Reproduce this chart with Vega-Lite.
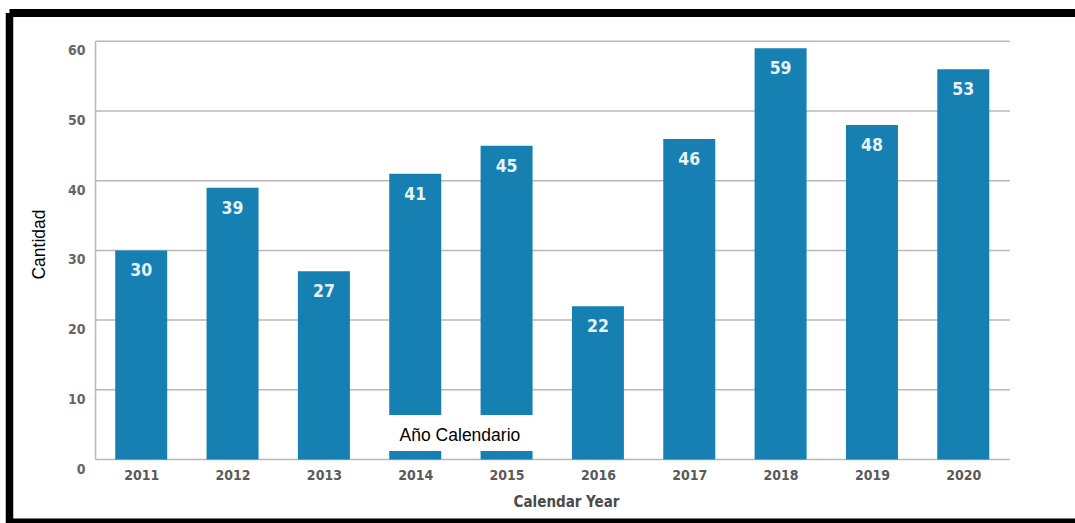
{
  "$schema": "https://vega.github.io/schema/vega-lite/v6.json",
  "width": 1065.5,
  "height": 510,
  "autosize": {"type": "none"},
  "padding": {"left": 9.5, "top": 13, "right": 0, "bottom": 0},
  "background": "white",
  "config": {"view": {"stroke": null}},
  "datasets": {
    "bars": [
      {"year": 2011, "value": 30, "label": "30"},
      {"year": 2012, "value": 39, "label": "39"},
      {"year": 2013, "value": 27, "label": "27"},
      {"year": 2014, "value": 41, "label": "41"},
      {"year": 2015, "value": 45, "label": "45"},
      {"year": 2016, "value": 22, "label": "22"},
      {"year": 2017, "value": 46, "label": "46"},
      {"year": 2018, "value": 59, "label": "59"},
      {"year": 2019, "value": 48, "label": "48"},
      {"year": 2020, "value": 56, "label": "53"}
    ],
    "grid": [
      {"level": 0}, {"level": 10}, {"level": 20}, {"level": 30},
      {"level": 40}, {"level": 50}, {"level": 60}
    ],
    "one": [{"item": "frame"}]
  },
  "layer": [
    {
      "data": {"name": "grid"},
      "mark": {"type": "rule", "color": "#b8b8b8", "strokeWidth": 1.5},
      "encoding": {
        "x": {
          "datum": 2010.5,
          "type": "quantitative",
          "scale": {"domain": [2009.558, 2021.223], "nice": false, "zero": false, "padding": 0},
          "axis": {
            "title": "Calendar Year",
            "values": [2011, 2012, 2013, 2014, 2015, 2016, 2017, 2018, 2019, 2020],
            "format": "d",
            "offset": -63.5,
            "domain": false,
            "ticks": false,
            "grid": false,
            "labelFont": "DejaVu Sans Condensed",
            "labelFontWeight": "bold",
            "labelFontSize": 14,
            "labelColor": "#5a5a5a",
            "labelBaseline": "middle",
            "labelPadding": 15.5,
            "labelFlush": false,
            "labelOverlap": false,
            "titleFont": "DejaVu Sans Condensed",
            "titleFontWeight": "bold",
            "titleFontSize": 15,
            "titleColor": "#4a4a4a",
            "titleX": 556.5,
            "titleY": 41.5,
            "titleBaseline": "middle",
            "titleAnchor": null
          }
        },
        "x2": {"datum": 2020.51},
        "y": {
          "field": "level",
          "type": "quantitative",
          "scale": {"domain": [-9.11, 64.06], "nice": false, "zero": false, "padding": 0},
          "axis": {
            "title": "Cantidad",
            "values": [0, 10, 20, 30, 40, 50, 60],
            "offset": -86.2,
            "domain": false,
            "ticks": false,
            "grid": false,
            "labelFont": "DejaVu Sans Condensed",
            "labelFontWeight": "bold",
            "labelFontSize": 14,
            "labelColor": "#666666",
            "labelPadding": 10.7,
            "labelOffset": 9.5,
            "labelBaseline": "middle",
            "labelFlush": false,
            "labelOverlap": false,
            "titleFont": "Liberation Sans",
            "titleFontWeight": "normal",
            "titleFontSize": 17.5,
            "titleColor": "#000000",
            "titleX": -55.7,
            "titleY": 231,
            "titleAngle": -90,
            "titleBaseline": "middle",
            "titleAnchor": null
          }
        }
      }
    },
    {
      "data": {"name": "one"},
      "mark": {"type": "rule", "color": "#b8b8b8", "strokeWidth": 1.5},
      "encoding": {
        "x": {"datum": 2010.5, "type": "quantitative"},
        "y": {"datum": 0, "type": "quantitative"},
        "y2": {"datum": 60}
      }
    },
    {
      "data": {"name": "bars"},
      "mark": {"type": "bar", "color": "#1580b1", "width": 52},
      "encoding": {
        "x": {"field": "year", "type": "quantitative"},
        "y": {"field": "value", "type": "quantitative"},
        "y2": {"datum": 0}
      }
    },
    {
      "data": {"name": "bars"},
      "mark": {
        "type": "text",
        "color": "#e6f2f8",
        "font": "DejaVu Sans Condensed",
        "fontWeight": "bold",
        "fontSize": 17.5,
        "baseline": "middle",
        "align": "center",
        "dy": 21
      },
      "encoding": {
        "x": {"field": "year", "type": "quantitative"},
        "y": {"field": "value", "type": "quantitative"},
        "text": {"field": "label"}
      }
    },
    {
      "data": {"name": "one"},
      "mark": {"type": "rect", "color": "#ffffff"},
      "encoding": {
        "x": {"datum": 2013.702, "type": "quantitative"},
        "x2": {"datum": 2015.41},
        "y": {"datum": 6.385, "type": "quantitative"},
        "y2": {"datum": 1.22}
      }
    },
    {
      "data": {"name": "one"},
      "mark": {
        "type": "text",
        "text": "Año Calendario",
        "color": "#000000",
        "font": "Liberation Sans",
        "fontSize": 17.5,
        "align": "left",
        "baseline": "alphabetic"
      },
      "encoding": {
        "x": {"datum": 2013.829, "type": "quantitative"},
        "y": {"datum": 2.654, "type": "quantitative"}
      }
    },
    {
      "data": {"name": "one"},
      "mark": {"type": "rule", "color": "#000000", "strokeWidth": 7.5},
      "encoding": {
        "x": {"datum": 2009.558, "type": "quantitative"}
      }
    },
    {
      "data": {"name": "one"},
      "mark": {"type": "rule", "color": "#000000", "strokeWidth": 8},
      "encoding": {
        "y": {"datum": 64.06, "type": "quantitative"}
      }
    },
    {
      "data": {"name": "one"},
      "mark": {"type": "rule", "color": "#000000", "strokeWidth": 5},
      "encoding": {
        "y": {"datum": -8.82, "type": "quantitative"}
      }
    }
  ]
}
